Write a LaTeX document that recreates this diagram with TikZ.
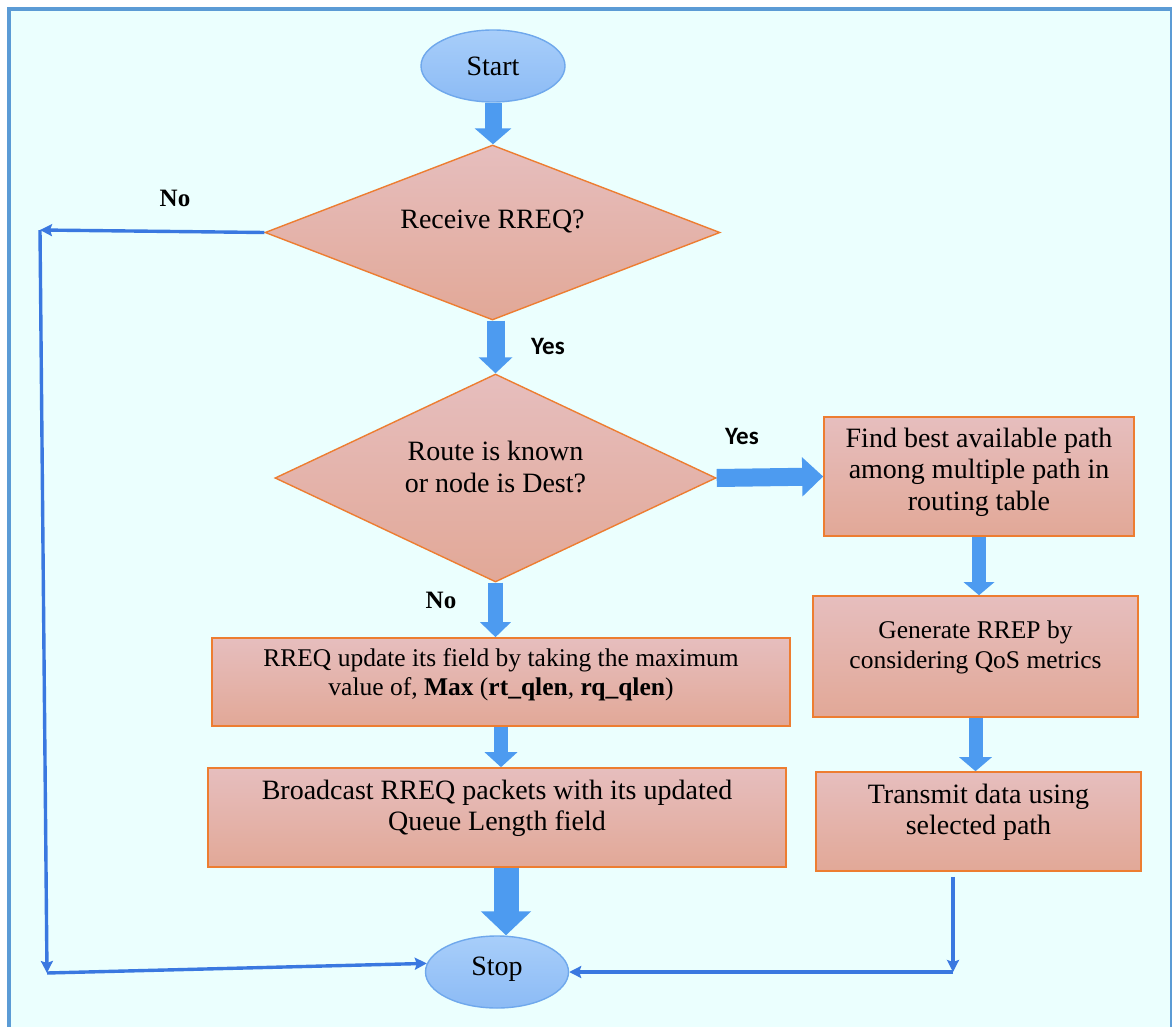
\documentclass[tikz,border=0pt]{standalone}
\usepackage{fontspec}
\setmainfont{Liberation Serif}
\newfontfamily\labelsans{Carlito}
\usetikzlibrary{shapes.geometric,arrows.meta}

\definecolor{bgcyan}{HTML}{EBFFFE}
\definecolor{framebl}{HTML}{5B9BD5}
\definecolor{boxtop}{HTML}{E6BEBE}
\definecolor{boxbot}{HTML}{E2A897}
\definecolor{boxedge}{HTML}{ED7D31}
\definecolor{ovaltop}{HTML}{A8CEFA}
\definecolor{ovalbot}{HTML}{8CBBF5}
\definecolor{ovaledge}{HTML}{6FA8EC}
\definecolor{arrowfill}{HTML}{4D9BF0}
\definecolor{linkblue}{HTML}{3A78E0}

% multi-line centred text, drawn a little above the box centre
\newcommand\liftedtext[2]{\raisebox{#1}[\height][\depth]{\begin{tabular}{@{}c@{}}#2\end{tabular}}}

\tikzset{
  bigfont/.style={font=\fontsize{28pt}{31.5pt}\selectfont},
  smallfont/.style={font=\fontsize{25.5pt}{29.5pt}\selectfont},
  stepbox/.style={rectangle, draw=boxedge, line width=1.6pt,
    top color=boxtop, bottom color=boxbot, inner sep=0pt, bigfont},
  decision/.style={diamond, aspect=2.2, draw=boxedge, line width=1.4pt,
    top color=boxtop, bottom color=boxbot, inner sep=0pt, bigfont},
  terminal/.style={ellipse, draw=ovaledge, line width=1.4pt,
    top color=ovaltop, bottom color=ovalbot, inner sep=0pt,
    minimum width=144pt, minimum height=72pt, bigfont},
  flowarrow/.style n args={3}{draw=arrowfill, line width=#1,
    -{Triangle[width=#2, length=#3, fill=arrowfill]}},
  link/.style={draw=linkblue, line width=3.4pt,
    -{Stealth[length=12pt, width=12pt, inset=2pt]}},
  nolabel/.style={font=\fontsize{25pt}{28pt}\selectfont\bfseries},
  yeslabel/.style={font=\fontsize{25pt}{28pt}\selectfont\labelsans\bfseries},
}

\begin{document}
\begin{tikzpicture}[x=1pt, y=-1pt]
  \useasboundingbox (0,0) rectangle (1172,1027);
  \fill[white] (0,0) rectangle (1172,1027);
  % framed background panel
  \draw[fill=bgcyan, draw=framebl, line width=4pt] (8.5,9) rectangle (1172,1040);

  % terminals
  \node[terminal] (start) at (493,66) {Start};
  \node[terminal, minimum width=143pt] (stop) at (497,972) {\raisebox{3pt}[\height][\depth]{Stop}};

  % decisions
  \node[decision, minimum width=455pt, minimum height=175pt] (d1) at (492.5,232.5)
    {\liftedtext{10pt}{Receive RREQ?}};
  \node[decision, minimum width=441pt, minimum height=208pt] (d2) at (495.5,478)
    {\liftedtext{8pt}{Route is known\\or node is Dest?}};

  % process boxes, left column
  \node[stepbox, smallfont, minimum width=578pt, minimum height=88pt] (upd) at (501,682)
    {\liftedtext{7pt}{RREQ update its field by taking the maximum\\
      value of, \textbf{Max} (\textbf{rt\_qlen}, \textbf{rq\_qlen})}};
  \node[stepbox, minimum width=578pt, minimum height=99pt] (bcast) at (497,817.5)
    {\liftedtext{9pt}{Broadcast RREQ packets with its updated\\Queue Length field}};

  % process boxes, right column
  \node[stepbox, minimum width=310pt, minimum height=119pt] (find) at (979,476.5)
    {\liftedtext{4pt}{Find best available path\\among multiple path in\\routing table}};
  \node[stepbox, smallfont, minimum width=325pt, minimum height=121pt] (gen) at (975.5,656.5)
    {\liftedtext{9pt}{Generate RREP by\\considering QoS metrics}};
  \node[stepbox, minimum width=325pt, minimum height=99pt] (trans) at (978.5,821.5)
    {\liftedtext{9pt}{Transmit data using\\selected path}};

  % block arrows of the main flow
  \draw[flowarrow={17pt}{36pt}{16pt}] (start.south) -- (start.south |- d1.north);
  \draw[flowarrow={18pt}{33pt}{16pt}] (d1.south -| d2.north) -- (d2.north);
  \draw[flowarrow={18pt}{38pt}{21pt}] (d2.east) -- (find.west);
  \draw[flowarrow={15pt}{30pt}{15pt}] (d2.south) -- (d2.south |- upd.north);
  \draw[flowarrow={14pt}{32pt}{15pt}] (upd.south) -- (upd.south |- bcast.north);
  \draw[flowarrow={25pt}{49pt}{24pt}] ([xshift=9pt]bcast.south) -- ([xshift=9pt]stop.north);
  \draw[flowarrow={14pt}{30pt}{13pt}] (find.south) -- (find.south |- gen.north);
  \draw[flowarrow={14pt}{32pt}{14pt}] (gen.south) -- (gen.south |- trans.north);

  % thin return lines to Stop
  \coordinate (noTop) at (40,230);
  \coordinate (noBot) at (47,973);
  \coordinate (rBot) at (953,972);
  \draw[link] (d1.west) -- (noTop);
  \draw[link] (noTop) -- (noBot);
  \draw[link] (noBot) -- (stop.173);
  \draw[link, shorten <=5pt] (trans.south -| rBot) -- (rBot);
  \draw[link] (rBot) -- (stop.east);

  % branch labels
  \node[nolabel] (no1) at (175,198) {No};
  \node[yeslabel] (yes1) at (548,346) {Yes};
  \node[yeslabel] (yes2) at (742,436) {Yes};
  \node[nolabel] (no2) at (441,600) {No};
\end{tikzpicture}
\end{document}
